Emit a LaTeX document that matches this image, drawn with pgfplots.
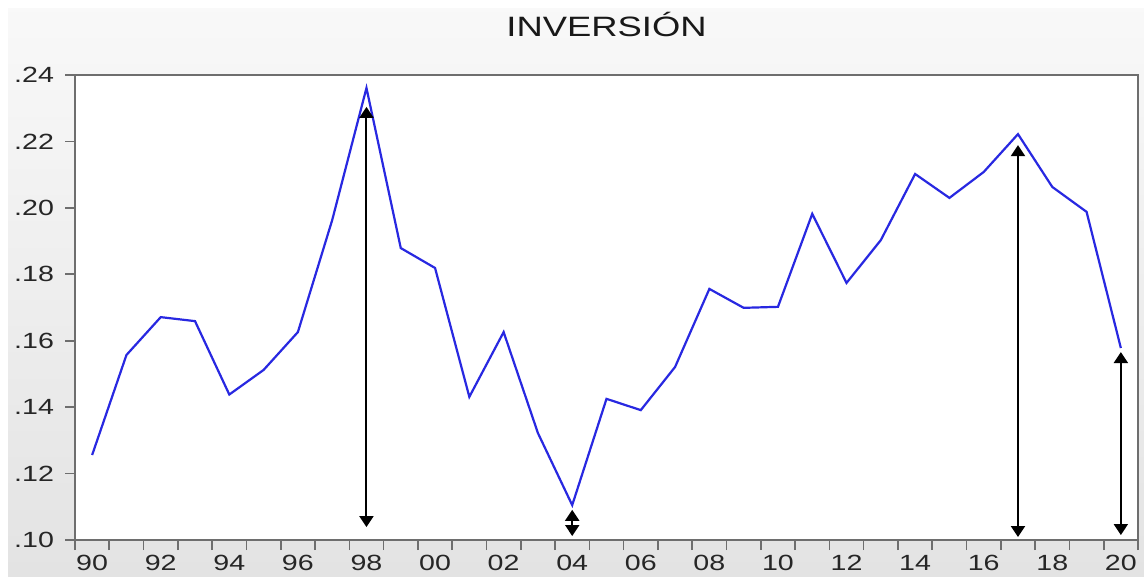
\documentclass[border=0pt]{standalone}
\usepackage{pgfplots}
\pgfplotsset{compat=1.18}
\usepackage{fontspec}
\setmainfont{Liberation Sans}[FakeStretch=1.3]
\usetikzlibrary{arrows.meta}
\definecolor{lineblue}{RGB}{40,40,225}
\definecolor{framegray}{RGB}{110,110,110}
\begin{document}
\begin{tikzpicture}
\tikzset{>={Triangle[width=7pt,length=5.5pt]}}
\fill[white] (0,0) rectangle (572pt,288pt);
\fill[top color=gray!5, bottom color=gray!22] (4pt,0) rectangle (572pt,284pt);
\begin{axis}[
  at={(37.5pt,18pt)}, anchor=south west,
  scale only axis, width=531.5pt, height=232.5pt,
  xmin=1989.5, xmax=2020.5, ymin=0.10, ymax=0.24,
  axis background/.style={fill=white},
  axis line style={framegray, line width=0.8pt},
  every tick/.style={framegray, line width=0.8pt},
  tick align=outside,
  xtick pos=bottom, ytick pos=left,
  xtick={1990,1992,...,2020},
  xticklabels={90,92,94,96,98,00,02,04,06,08,10,12,14,16,18,20},
  minor xtick={1989.5,1990.5,...,2020.5},
  major x tick style={draw=none},
  major tick length=5pt, minor tick length=5pt,
  ytick={0.10,0.12,0.14,0.16,0.18,0.20,0.22,0.24},
  yticklabels={.10,.12,.14,.16,.18,.20,.22,.24},
  ticklabel style={font=\fontsize{11}{13}\selectfont, text=black!85},
  yticklabel style={xshift=-2pt},
  xticklabel style={yshift=1pt},
  title={INVERSIÓN},
  title style={at={(0.5,1)}, anchor=center, yshift=19.5pt, font=\fontsize{14}{16}\selectfont, text=black!90},
]
\addplot[lineblue, line width=1.1pt] coordinates {
(1990,0.1256) (1991,0.1557) (1992,0.1671) (1993,0.1659) (1994,0.1438)
(1995,0.1512) (1996,0.1626) (1997,0.1963) (1998,0.2361) (1999,0.1879)
(2000,0.1819) (2001,0.1431) (2002,0.1626) (2003,0.1322) (2004,0.1105)
(2005,0.1425) (2006,0.1391) (2007,0.1521) (2008,0.1756) (2009,0.1699)
(2010,0.1702) (2011,0.1982) (2012,0.1774) (2013,0.1903) (2014,0.2102)
(2015,0.2030) (2016,0.2108) (2017,0.2222) (2018,0.2063) (2019,0.1988)
(2020,0.1578)
};
\addplot[black, line width=1pt, <->] coordinates {(1998,0.2304) (1998,0.1039)};
\addplot[black, line width=1pt, <->] coordinates {(2004,0.1091) (2004,0.1012)};
\addplot[black, line width=1pt, <->] coordinates {(2017,0.2189) (2017,0.1009)};
\addplot[black, line width=1pt, <->] coordinates {(2020,0.1566) (2020,0.1015)};
\end{axis}
\end{tikzpicture}
\end{document}
